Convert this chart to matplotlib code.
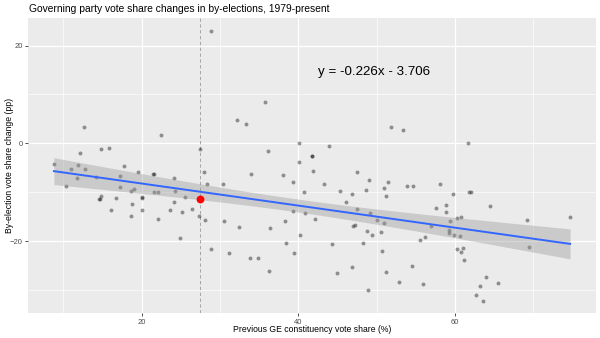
import numpy as np
import matplotlib.pyplot as plt

# previous GE vote share (%) and by-election change (pp)
prev_share = [28.9, 32.2, 12.6, 22.5, 27.5, 12.1, 14.8, 15.8, 8.8, 11.9, 17.7,
              35.8, 33.3, 51.8, 40.1, 43.9, 36.1, 40.1, 41.7, 41.7, 53.4, 61.7,
              12.8, 11.0, 27.9, 21.5, 21.6, 19.5, 11.8, 10.4, 14.2, 17.2, 24.1,
              28.3, 30.4, 17.2, 19.0, 18.6, 21.6, 22.1, 24.3, 25.5, 14.8, 14.5,
              14.7, 16.7, 20.1, 20.1, 24.1, 18.8, 16.1, 20.1, 23.6, 25.2, 26.4,
              18.6, 22.1, 27.3, 28.1, 30.5, 32.4, 24.9, 28.8, 31.1,
              33.9, 38.1, 41.9, 47.5, 39.3, 43.3, 49.0, 51.4, 48.6, 51.0, 45.3,
              40.7, 46.8, 51.2, 46.1, 39.3, 40.9, 47.5, 49.2, 42.1, 50.0, 50.9,
              38.3, 36.4, 47.0, 47.3, 48.8, 49.4, 50.6, 40.2, 38.4, 44.3, 48.2,
              39.5, 50.7, 33.8, 34.8, 46.8, 36.3, 44.9, 51.2, 52.9, 48.9,
              53.9, 54.6, 58.1, 59.7, 61.8, 62.1, 64.5, 57.6, 58.8, 58.9, 59.4,
              60.3, 60.8, 57.0, 59.2, 59.2, 59.9, 60.7, 56.2, 55.5, 69.2, 74.7,
              69.5, 60.2, 61.0, 60.8, 61.2, 54.5, 55.9, 65.5, 63.9, 63.2, 62.7,
              63.6]
change = [23.0, 4.8, 3.3, 1.8, -1.2, -2.0, -1.2, -1.0, -4.2, -4.5, -4.7,
          8.5, 4.0, 3.3, 0.1, -0.5, -1.5, -3.8, -2.5, -2.6, 2.7, 0.1,
          -5.2, -5.3, -5.8, -6.3, -6.3, -5.9, -7.2, -8.7, -6.8, -6.6, -7.2,
          -8.3, -8.3, -8.9, -9.4, -9.7, -10.0, -10.0, -9.8, -10.9, -10.8, -11.5,
          -11.5, -11.2, -11.0, -11.1, -12.0, -12.4, -13.7, -13.7, -13.7, -14.0, -13.5,
          -14.8, -15.5, -14.8, -15.6, -15.9, -17.2, -19.3, -21.6, -22.5,
          -6.2, -6.5, -5.7, -5.8, -7.9, -8.4, -7.5, -7.9, -9.6, -9.2, -9.7,
          -10.0, -10.4, -10.7, -12.1, -13.8, -14.3, -13.4, -14.3, -15.5, -15.6, -16.4,
          -16.0, -17.3, -16.9, -16.8, -18.0, -18.8, -18.2, -18.7, -20.5, -20.6, -20.4,
          -22.5, -22.0, -23.4, -23.5, -25.3, -26.2, -26.5, -26.4, -28.3, -30.1,
          -8.8, -8.7, -8.4, -10.3, -10.0, -10.0, -12.9, -13.3, -12.7, -14.0, -15.8,
          -15.2, -15.1, -16.9, -17.8, -18.3, -18.8, -18.9, -19.2, -19.8, -15.7, -15.0,
          -21.2, -21.6, -21.4, -22.3, -23.9, -25.1, -28.8, -28.6, -27.3, -29.2, -31.1,
          -32.3]

highlight_x = 27.5    # highlighted by-election (red dot + dashed line)
highlight_y = -11.5

fit_slope = -0.226
fit_intercept = -3.706

x = np.array(prev_share)
y = np.array(change)

plt.rcParams['font.family'] = ['Liberation Sans', 'DejaVu Sans']

fig = plt.figure(figsize=(6, 3.38), dpi=100)
ax = fig.add_axes([0.047, 0.073, 0.946, 0.873])
ax.set_facecolor('#EBEBEB')

# confidence band around the fitted line
xs = np.linspace(x.min(), x.max(), 100)
ys = fit_intercept + fit_slope * xs
resid = y - (fit_intercept + fit_slope * x)
n = len(x)
s = np.sqrt(np.sum(resid ** 2) / (n - 2))
sxx = np.sum((x - x.mean()) ** 2)
se = s * np.sqrt(1 / n + (xs - x.mean()) ** 2 / sxx)
ax.fill_between(xs, ys - 1.98 * se, ys + 1.98 * se, color='#999999', alpha=0.4,
                lw=0, zorder=3)

ax.scatter(x, y, s=8, color='black', alpha=0.4, lw=0, zorder=2)
ax.plot(xs, ys, color='#3366FF', lw=1.4, zorder=4)
ax.axvline(highlight_x, color='#9a9a9a', ls=(0, (4, 3)), lw=0.6, zorder=1.5)
ax.scatter([highlight_x], [highlight_y], s=32, color='red', lw=0, zorder=5)

ax.text(49.7, 14.6, 'y = %.3fx - %.3f' % (fit_slope, -fit_intercept),
        fontsize=9.6, ha='center', va='center', color='black')

ax.set_xlim(5.52, 77.98)
ax.set_ylim(-34.8, 25.6)
ax.set_xticks([20, 40, 60])
ax.set_yticks([-20, 0, 20])
ax.set_xticks([10, 30, 50, 70], minor=True)
ax.set_yticks([-30, -10, 10], minor=True)
ax.grid(which='major', color='white', lw=0.9)
ax.grid(which='minor', color='white', lw=0.45)
ax.set_axisbelow(True)
for sp in ax.spines.values():
    sp.set_visible(False)
ax.tick_params(which='major', length=2.5, width=0.6, color='#333333',
               labelsize=5.5, labelcolor='#4D4D4D', pad=1.5)
ax.tick_params(which='minor', length=0)

fig.text(0.52, 0.026, 'Previous GE constituency vote share (%)', fontsize=6.2,
         ha='center', va='center')
fig.text(0.016, 0.512, 'By-election vote share change (pp)', fontsize=6.2,
         ha='center', va='center', rotation=90)
fig.text(0.048, 0.973, 'Governing party vote share changes in by-elections, 1979-present',
         fontsize=7.4, ha='left', va='center')

fig.savefig('out.png', dpi=100)
